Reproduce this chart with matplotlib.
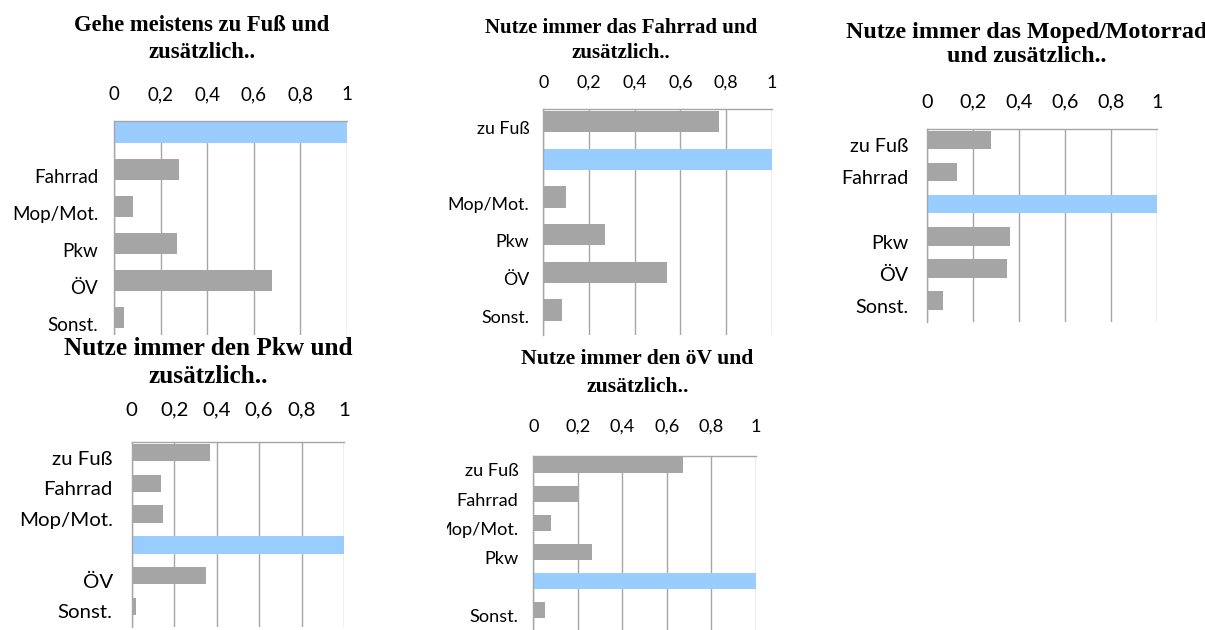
import numpy as np
import matplotlib
matplotlib.use("Agg")
from matplotlib import pyplot as plt
from matplotlib.patches import Rectangle

#-------------------------------------------------------------------
# data (shares)
categories = ['zu Fuß', 'Fahrrad', 'Mop/Mot.', 'Pkw', 'ÖV', 'Sonst.']
ticks = [0, 0.2, 0.4, 0.6, 0.8, 1]
tick_labels = ['0', '0,2', '0,4', '0,6', '0,8', '1']

fuss = [1.0, 0.28, 0.083, 0.272, 0.68, 0.042]
fahrrad = [0.769, 1.0, 0.098, 0.269, 0.54, 0.082]
moped = [0.279, 0.13, 1.0, 0.362, 0.347, 0.069]
pkw = [0.369, 0.138, 0.148, 1.0, 0.349, 0.02]
oev = [0.671, 0.204, 0.079, 0.263, 1.0, 0.052]

titles = ['Gehe meistens zu Fuß und\nzusätzlich..',
          'Nutze immer das Fahrrad und\nzusätzlich..',
          'Nutze immer das Moped/Motorrad\nund zusätzlich..',
          'Nutze immer den Pkw und\nzusätzlich..',
          'Nutze immer den öV und\nzusätzlich..']

#-------------------------------------------------------------------
# layout in pixels: axes (left, top, right, bottom), title centre, sizes
W, H = 1205, 630
panels = [
    dict(vals=fuss, box=(114, 120.5, 347, 342.5), tx=202, ty=39, tfs=16.3,
         ls=1.37, fs=13.5, xpad=12.6, ypad=11.5),
    dict(vals=fahrrad, box=(543.3, 109, 771.7, 335), tx=621, ty=40.5, tfs=15.0,
         ls=1.33, fs=12.8, xpad=13.3, ypad=10),
    dict(vals=moped, box=(926.7, 129.3, 1157, 322), tx=1027, ty=44.5, tfs=17.3,
         ls=1.15, fs=14.2, xpad=13.3, ypad=13),
    dict(vals=pkw, box=(131.7, 442.3, 344, 626.7), tx=208, ty=362.5, tfs=18.2,
         ls=1.27, fs=14.7, xpad=17, ypad=13.7),
    dict(vals=oev, box=(533.3, 455.5, 756, 629.5), tx=637.5, ty=373, tfs=15.6,
         ls=1.55, fs=13.1, xpad=14.8, ypad=10.8),
]

grey = '#a5a5a5'
blue = '#99ccff'
gridc = '#a6a6a6'

fig = plt.figure(figsize=(W / 100, H / 100), dpi=100)

for k, p in enumerate(panels):
    l, t, r, b = p['box']
    ax = fig.add_axes([l / W, 1 - b / H, (r - l) / W, (b - t) / H])
    y = np.arange(len(categories))
    colors = [blue if i == k else grey for i in range(len(categories))]
    ax.barh(y - 0.165, p['vals'], height=0.57, color=colors, zorder=2)
    ax.set_xlim(0, 1)
    ax.set_ylim(len(categories) - 0.5, -0.5)
    ax.xaxis.tick_top()
    ax.set_xticks(ticks)
    ax.set_xticklabels(tick_labels, fontsize=p['fs'], family='Lato')
    ax.set_yticks(y)
    labs = ['' if i == k else c for i, c in enumerate(categories)]
    ax.set_yticklabels(labs, fontsize=p['fs'], family='Lato')
    ax.tick_params(axis='x', length=0, pad=p['xpad'])
    ax.tick_params(axis='y', length=0, pad=p['ypad'])
    ax.grid(axis='x', color=gridc, linewidth=1.0, zorder=1)
    ax.set_axisbelow(True)
    for s in ['right', 'bottom']:
        ax.spines[s].set_visible(False)
    for s in ['left', 'top']:
        ax.spines[s].set_color(gridc)
        ax.spines[s].set_linewidth(1.0)
    if k == 3:
        ax.set_zorder(2)
    fig.text(p['tx'] / W, 1 - p['ty'] / H, titles[k], ha='center', va='center',
             fontsize=p['tfs'], fontweight='bold', family='Liberation Serif',
             linespacing=p['ls'])

# chart area of the Pkw panel lies over its neighbours
fig.add_artist(Rectangle((0, 0), 447 / W, 1 - 335 / H, transform=fig.transFigure,
                         facecolor='white', edgecolor='none', zorder=1))

plt.savefig('out.png', dpi=100)
